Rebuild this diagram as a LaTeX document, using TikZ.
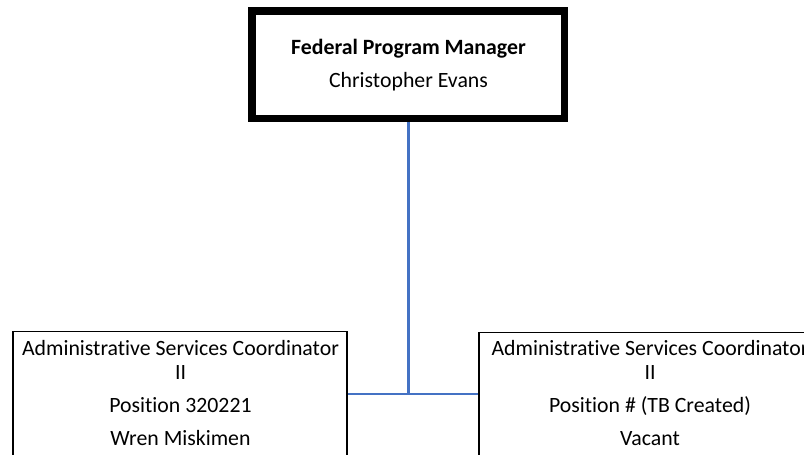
\documentclass[tikz,border=0pt]{standalone}
\usepackage{fontspec}
\setmainfont{Carlito}[Ligatures={NoCommon}]
\usetikzlibrary{backgrounds}
\definecolor{connblue}{RGB}{68,114,196}
\begin{document}
\begin{tikzpicture}[x=1pt,y=-1pt,
  txt/.style={anchor=base,inner sep=0pt,font=\fontsize{21.8}{24}\selectfont},
  bold/.style={txt,font=\fontsize{21.8}{24}\selectfont\bfseries},
  topbox/.style={draw=black,line width=7.5pt,minimum width=312.5pt,minimum height=107.5pt,inner sep=0pt,fill=white},
  posbox/.style={draw=black,line width=1.3pt,minimum width=334pt,minimum height=150pt,inner sep=0pt,anchor=north},
  conn/.style={draw=connblue,line width=2.5pt}]
\useasboundingbox (0,0) rectangle (804,455);
\clip (0,0) rectangle (804,455);
% top box
\node[topbox] (fpm) at (408,64.75) {};
\node[bold] (fpmt) at (408.5,54) {Federal Program Manager};
\node[txt] (fpmn) at (408.5,87) {Christopher Evans};
% left box
\node[posbox] (lbox) at (180,331) {};
\node[txt] (l1) at (180.5,355) {Administrative Services Coordinator};
\node[txt] (l2) at (180.5,379) {II};
\node[txt] (l3) at (180.5,412) {Position 320221};
\node[txt] (l4) at (180.5,445) {Wren Miskimen};
% right box
\node[posbox] (rbox) at (646,332) {};
\node[txt] (r1) at (650,355) {Administrative Services Coordinator};
\node[txt] (r2) at (650,379) {II};
\node[txt] (r3) at (650,412) {Position \# (TB Created)};
\node[txt] (r4) at (650,445) {Vacant};
% connectors
\coordinate (j) at (408.5,394);
\begin{scope}[on background layer]
\draw[conn] (fpm.south -| j) -- (j);
\draw[conn] (lbox.east |- j) -- (rbox.west |- j);
\end{scope}
\end{tikzpicture}
\end{document}
